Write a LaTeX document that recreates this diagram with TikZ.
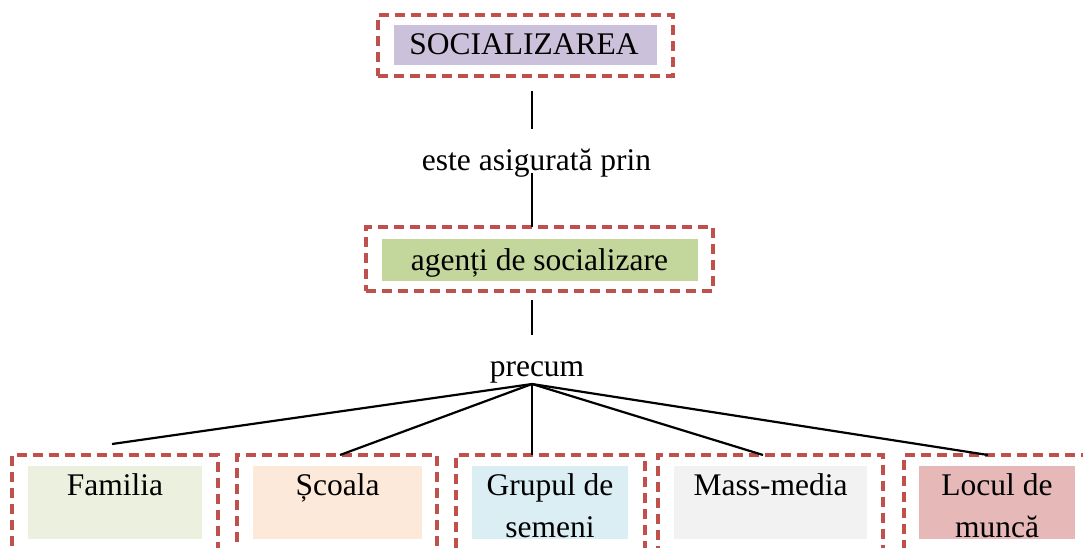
\documentclass[tikz,border=0pt]{standalone}
\usepackage{fontspec}
\setmainfont{Liberation Serif}
\definecolor{dred}{HTML}{C0504D}
\definecolor{cpurple}{HTML}{CCC1DA}
\definecolor{cgreen}{HTML}{C3D69B}
\definecolor{cfam}{HTML}{EBF1DE}
\definecolor{cscoala}{HTML}{FDE9D9}
\definecolor{cgrup}{HTML}{DAEEF3}
\definecolor{cmass}{HTML}{F2F2F2}
\definecolor{cloc}{HTML}{E6B9B8}
\begin{document}
\begin{tikzpicture}[x=1pt,y=-1pt,
  dbox/.style={draw=dred,line width=3.2pt,dash pattern=on 10pt off 6pt,inner sep=0pt,outer sep=0pt},
  fbox/.style={inner sep=0pt,outer sep=0pt},
  lbl/.style={inner sep=0pt,outer sep=0pt,font=\fontsize{31.5}{42}\selectfont,align=center},
  conn/.style={line width=2.2pt,black}]
\useasboundingbox (0,0) rectangle (1083,548);
\clip (0,0) rectangle (1083,548);

% top
\node[dbox,minimum width=295pt,minimum height=61pt] (socd) at (525.5,45.5) {};
\node[fbox,fill=cpurple,minimum width=263pt,minimum height=40pt] (socf) at (525.5,45) {};
\node[lbl,anchor=base] (soc) at (524,55) {SOCIALIZAREA};

\node[lbl,anchor=base] (este) at (536.5,171) {este asigurată prin};

% agenti
\node[dbox,minimum width=347pt,minimum height=64pt] (agd) at (539.5,259) {};
\node[fbox,fill=cgreen,minimum width=316pt,minimum height=42pt] (agf) at (540,260) {};
\node[lbl,anchor=base] (ag) at (539.5,270) {agenți de socializare};

\node[lbl,anchor=base] (precum) at (537,376) {precum};

% bottom boxes
\node[dbox,minimum width=206pt,minimum height=115pt] (d1) at (115,512.5) {};
\node[dbox,minimum width=200pt,minimum height=115pt] (d2) at (337,512.5) {};
\node[dbox,minimum width=189pt,minimum height=115pt] (d3) at (550.5,512.5) {};
\node[dbox,minimum width=225pt,minimum height=115pt] (d4) at (770.5,512.5) {};
\node[dbox,minimum width=196pt,minimum height=115pt] (d5) at (1002,512.5) {};

\node[fbox,fill=cfam,minimum width=174pt,minimum height=73pt] (f1) at (115,502.5) {};
\node[fbox,fill=cscoala,minimum width=169pt,minimum height=73pt] (f2) at (337.5,502.5) {};
\node[fbox,fill=cgrup,minimum width=156pt,minimum height=73pt] (f3) at (550,502.5) {};
\node[fbox,fill=cmass,minimum width=193pt,minimum height=73pt] (f4) at (770.5,502.5) {};
\node[fbox,fill=cloc,minimum width=156pt,minimum height=73pt] (f5) at (997,502.5) {};

\node[lbl,anchor=north] (t1) at ([yshift=-7.5pt]f1.north) {Familia};
\node[lbl,anchor=north] (t2) at ([yshift=-7.5pt]f2.north) {Școala};
\node[lbl,anchor=north] (t3) at ([yshift=-7.5pt]f3.north) {Grupul de\\semeni};
\node[lbl,anchor=north] (t4) at ([yshift=-7.5pt]f4.north) {Mass-media};
\node[lbl,anchor=north] (t5) at ([yshift=-7.5pt]f5.north) {Locul de\\muncă};

% connector coordinates
\coordinate (a1) at (532,91);
\coordinate (a2) at (532,129);
\coordinate (b1) at (532,173);
\coordinate (c1) at (532,300);
\coordinate (c2) at (532,335);
\coordinate (apex) at (532,384);
\coordinate (e1) at (112,444);

\draw[conn] (a1) -- (a2);
\draw[conn] (b1) -- (agd.north -| b1);
\draw[conn] (c1) -- (c2);
\draw[conn] (apex) -- (e1);
\draw[conn] (apex) -- (d2.north -| 340,0);
\draw[conn] (apex) -- (d3.north -| apex);
\draw[conn] (apex) -- (d4.north -| 763,0);
\draw[conn] (apex) -- (d5.north -| 988,0);
\end{tikzpicture}
\end{document}
